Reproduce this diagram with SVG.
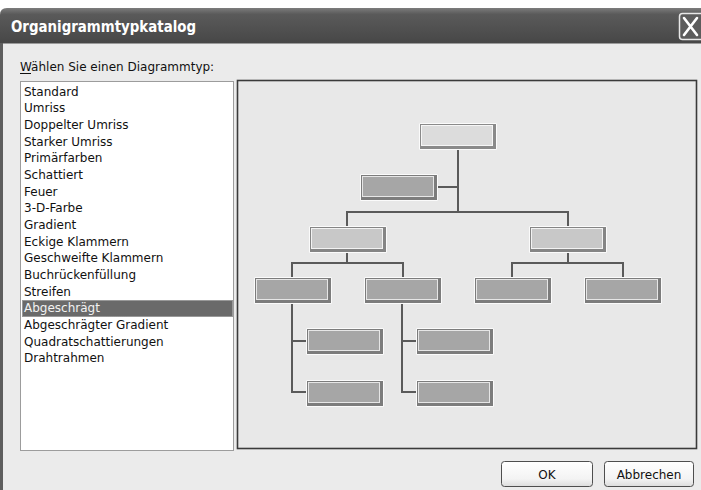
<svg xmlns="http://www.w3.org/2000/svg" xmlns:xlink="http://www.w3.org/1999/xlink" width="701" height="490" viewBox="0 0 701 490">
  <style>
    .ui { font-family: "DejaVu Sans", "Liberation Sans", sans-serif; font-size: 12px; fill: #111; }
    .sel { fill: #f2f2f2; }
    .title { font-family: "DejaVu Sans Condensed", "DejaVu Sans", sans-serif; font-size: 16px; font-weight: bold; fill: #ffffff; }
    .wire { fill: none; stroke: #5a5a5a; stroke-width: 2; }
    .btn { fill: url(#btnFill); stroke: #4e4e4e; stroke-width: 1; }
  </style>
  <defs>
    <linearGradient id="titleFill" x1="0" y1="0" x2="0" y2="1">
      <stop offset="0" stop-color="#7c7c7c"/>
      <stop offset="0.18" stop-color="#5a5a5a"/>
      <stop offset="1" stop-color="#474747"/>
    </linearGradient>
    <linearGradient id="btnFill" x1="0" y1="0" x2="0" y2="1">
      <stop offset="0" stop-color="#ffffff"/>
      <stop offset="0.7" stop-color="#f3f3f3"/>
      <stop offset="1" stop-color="#dcdcdc"/>
    </linearGradient>
    <!-- bevelled box, three face shades -->
    <g id="box-top">
      <rect x="0" y="0" width="78" height="27" rx="1.5" fill="#fbfbfb"/>
      <rect x="1" y="1" width="76" height="25" fill="#8a8a8a"/>
      <rect x="2" y="2" width="72" height="21" fill="#f6f6f6"/>
      <rect x="3" y="3" width="70" height="19" fill="#dcdcdc"/>
    </g>
    <g id="box-mid">
      <rect x="0" y="0" width="78" height="27" rx="1.5" fill="#fbfbfb"/>
      <rect x="1" y="1" width="76" height="25" fill="#858585"/>
      <rect x="2" y="2" width="72" height="21" fill="#f2f2f2"/>
      <rect x="3" y="3" width="70" height="19" fill="#c8c8c8"/>
    </g>
    <g id="box-dark">
      <rect x="0" y="0" width="78" height="27" rx="1.5" fill="#fbfbfb"/>
      <rect x="1" y="1" width="76" height="25" fill="#7c7c7c"/>
      <rect x="2" y="2" width="72" height="21" fill="#e6e6e6"/>
      <rect x="3" y="3" width="70" height="19" fill="#a6a6a6"/>
    </g>
  </defs>

  <!-- window frame -->
  <rect x="0" y="0" width="701" height="490" fill="#ffffff"/>
  <rect x="0" y="8" width="720" height="490" rx="7" fill="#ebebeb"/>
  <path d="M0,43 V15 Q0,8 7,8 H701 V43 Z" fill="url(#titleFill)"/>
  <rect x="0" y="43" width="701" height="1" fill="#9a9a9a"/>
  <rect x="0" y="43" width="3" height="447" fill="#5e5e5e"/>
  <text class="title" x="11" y="32" textLength="185" lengthAdjust="spacingAndGlyphs">Organigrammtypkatalog</text>

  <!-- close button -->
  <g id="close">
    <rect x="679.5" y="13.5" width="26" height="26" rx="3" fill="#5c5c5c" stroke="#e8e8e8" stroke-width="1.5"/>
    <path d="M684,18 L697,35 M697,18 L684,35" stroke="#ffffff" stroke-width="2.6" stroke-linecap="round"/>
  </g>

  <!-- prompt -->
  <text class="ui" x="20" y="71">Wählen Sie einen Diagrammtyp:</text>
  <rect x="20" y="73" width="11" height="1" fill="#111"/>

  <!-- list box -->
  <g id="list">
    <rect x="20.5" y="81.5" width="213" height="369" fill="#ffffff" stroke="#9c9c9c"/>
    <rect x="22" y="300" width="211" height="17" fill="#6a6a6a"/>
    <rect x="22.5" y="300.5" width="210" height="16" fill="none" stroke="#c8c8c8" stroke-dasharray="1 1"/>
    <text class="ui" x="24" y="95.5">Standard</text>
    <text class="ui" x="24" y="112.2">Umriss</text>
    <text class="ui" x="24" y="128.9">Doppelter Umriss</text>
    <text class="ui" x="24" y="145.5">Starker Umriss</text>
    <text class="ui" x="24" y="162.2">Primärfarben</text>
    <text class="ui" x="24" y="178.9">Schattiert</text>
    <text class="ui" x="24" y="195.6">Feuer</text>
    <text class="ui" x="24" y="212.3">3-D-Farbe</text>
    <text class="ui" x="24" y="228.9">Gradient</text>
    <text class="ui" x="24" y="245.6">Eckige Klammern</text>
    <text class="ui" x="24" y="262.3">Geschweifte Klammern</text>
    <text class="ui" x="24" y="279">Buchrückenfüllung</text>
    <text class="ui" x="24" y="295.7">Streifen</text>
    <text class="ui sel" x="24" y="312.3">Abgeschrägt</text>
    <text class="ui" x="24" y="329">Abgeschrägter Gradient</text>
    <text class="ui" x="24" y="345.7">Quadratschattierungen</text>
    <text class="ui" x="24" y="362.4">Drahtrahmen</text>
  </g>

  <!-- preview pane -->
  <rect x="237.5" y="80.5" width="459" height="368" fill="#e8e8e8" stroke="#3a3a3a" stroke-width="1.6"/>

  <!-- connectors -->
  <g id="connectors">
    <path class="wire" d="M458,149 V212 M438,187 H458"/>
    <path class="wire" d="M347,226 V212 H568 V226"/>
    <path class="wire" d="M347,252 V263 M292,277 V263 H403 V277"/>
    <path class="wire" d="M568,252 V263 M512,277 V263 H623 V277"/>
    <path class="wire" d="M292,303 V392 H307 M292,341 H307"/>
    <path class="wire" d="M402,303 V392 H417 M402,341 H417"/>
  </g>

  <!-- chart boxes -->
  <g id="n-root"><use xlink:href="#box-top" x="419" y="123"/></g>
  <g id="n-assistant"><use xlink:href="#box-dark" x="360" y="174"/></g>
  <g id="n-left"><use xlink:href="#box-mid" x="309" y="226"/></g>
  <g id="n-right"><use xlink:href="#box-mid" x="529" y="226"/></g>
  <g id="n-left-a"><use xlink:href="#box-dark" x="254" y="277"/></g>
  <g id="n-left-b"><use xlink:href="#box-dark" x="364" y="277"/></g>
  <g id="n-right-a"><use xlink:href="#box-dark" x="474" y="277"/></g>
  <g id="n-right-b"><use xlink:href="#box-dark" x="584" y="277"/></g>
  <g id="n-left-a-1"><use xlink:href="#box-dark" x="306" y="328"/></g>
  <g id="n-left-a-2"><use xlink:href="#box-dark" x="306" y="380"/></g>
  <g id="n-left-b-1"><use xlink:href="#box-dark" x="416" y="328"/></g>
  <g id="n-left-b-2"><use xlink:href="#box-dark" x="416" y="380"/></g>

  <!-- buttons -->
  <g id="btn-ok">
    <rect class="btn" x="501.5" y="461.5" width="91" height="25" rx="3"/>
    <text class="ui" x="547" y="478.5" text-anchor="middle">OK</text>
  </g>
  <g id="btn-cancel">
    <rect class="btn" x="604.5" y="461.5" width="89" height="25" rx="3"/>
    <text class="ui" x="649" y="478.5" text-anchor="middle">Abbrechen</text>
  </g>
</svg>
